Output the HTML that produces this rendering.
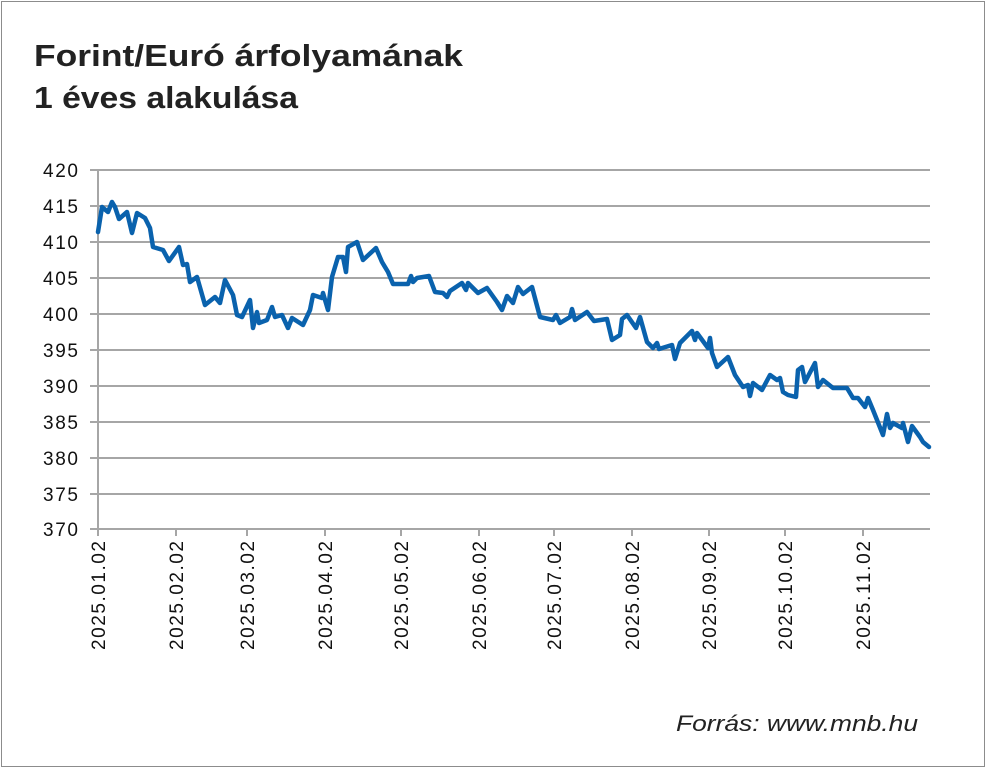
<!DOCTYPE html>
<html><head><meta charset="utf-8"><style>
html,body{margin:0;padding:0;background:#fff}
body{width:986px;height:768px;position:relative;overflow:hidden;font-family:"Liberation Sans",sans-serif}
.frame{position:absolute;left:1px;top:1px;width:982px;height:764px;border:1px solid #8c8c8c}
</style></head><body>
<div class="frame"></div>
<svg width="986" height="768" style="position:absolute;left:0;top:0">
<g font-weight="bold" font-size="31" fill="#222">
<text x="34" y="66" textLength="429" lengthAdjust="spacingAndGlyphs">Forint/Euró árfolyamának</text>
<text x="34" y="108" textLength="264" lengthAdjust="spacingAndGlyphs">1 éves alakulása</text>
</g>
<g stroke="#a6a6a6" stroke-width="2">
<line x1="90" x2="930" y1="170" y2="170"/><line x1="90" x2="930" y1="206" y2="206"/>
<line x1="90" x2="930" y1="242" y2="242"/><line x1="90" x2="930" y1="278" y2="278"/>
<line x1="90" x2="930" y1="314" y2="314"/><line x1="90" x2="930" y1="350" y2="350"/>
<line x1="90" x2="930" y1="386" y2="386"/><line x1="90" x2="930" y1="422" y2="422"/>
<line x1="90" x2="930" y1="458" y2="458"/><line x1="90" x2="930" y1="494" y2="494"/>
<line x1="90" x2="930" y1="529" y2="529"/>
<line x1="98" x2="98" y1="170" y2="536"/>
<line x1="176" x2="176" y1="529" y2="536"/><line x1="247" x2="247" y1="529" y2="536"/>
<line x1="325" x2="325" y1="529" y2="536"/><line x1="401" x2="401" y1="529" y2="536"/>
<line x1="479" x2="479" y1="529" y2="536"/><line x1="554" x2="554" y1="529" y2="536"/>
<line x1="632" x2="632" y1="529" y2="536"/><line x1="709" x2="709" y1="529" y2="536"/>
<line x1="785" x2="785" y1="529" y2="536"/><line x1="863" x2="863" y1="529" y2="536"/>
</g>
<g font-size="19" fill="#111" text-anchor="end">
<text x="78" y="177" textLength="35">420</text><text x="78" y="213" textLength="35">415</text><text x="78" y="249" textLength="35">410</text>
<text x="78" y="285" textLength="35">405</text><text x="78" y="321" textLength="35">400</text><text x="78" y="357" textLength="35">395</text>
<text x="78" y="393" textLength="35">390</text><text x="78" y="429" textLength="35">385</text><text x="78" y="465" textLength="35">380</text>
<text x="78" y="501" textLength="35">375</text><text x="78" y="536" textLength="35">370</text>
</g>
<g font-size="19" fill="#111" text-anchor="end">
<text transform="translate(105,541) rotate(-90)" textLength="109">2025.01.02</text>
<text transform="translate(183,541) rotate(-90)" textLength="109">2025.02.02</text>
<text transform="translate(254,541) rotate(-90)" textLength="109">2025.03.02</text>
<text transform="translate(332,541) rotate(-90)" textLength="109">2025.04.02</text>
<text transform="translate(408,541) rotate(-90)" textLength="109">2025.05.02</text>
<text transform="translate(486,541) rotate(-90)" textLength="109">2025.06.02</text>
<text transform="translate(561,541) rotate(-90)" textLength="109">2025.07.02</text>
<text transform="translate(639,541) rotate(-90)" textLength="109">2025.08.02</text>
<text transform="translate(716,541) rotate(-90)" textLength="109">2025.09.02</text>
<text transform="translate(792,541) rotate(-90)" textLength="109">2025.10.02</text>
<text transform="translate(870,541) rotate(-90)" textLength="109">2025.11.02</text>
</g>
<polyline fill="none" stroke="#0a62ad" stroke-width="4.5" stroke-linejoin="round" stroke-linecap="round" points="
98,232 102,207 108,212 112,202 115,207 119,219 127,212 132,233 137,213 145,218 150,228 153,247 163,250 169,261 179,247 183,265 187,264 190,282 197,277 205,305 215,297 220,303 225,280 233,295 237,315 242,317 250,300 253,328 257,312 259,323 267,320 272,307 275,317 282,315 288,328 292,318 303,325 310,310 313,295 322,298 323,293 328,310 332,277 338,257 343,257 346,272 348,247 357,242 363,260 376,248 382,262 388,272 393,284 408,284 411,276 413,282 417,278 429,276 435,292 443,293 447,297 450,291 462,283 466,290 468,283 478,293 487,288 497,302 502,310 507,296 513,303 518,287 523,294 532,287 540,317 553,320 556,315 560,323 570,317 572,309 575,320 587,312 594,321 607,319 612,340 620,335 622,319 627,315 636,328 640,317 647,342 653,348 657,343 659,349 672,345 675,359 680,343 692,331 695,340 697,333 708,348 710,338 712,353 717,367 728,357 735,375 743,387 748,385 750,396 753,383 762,390 770,375 777,380 780,378 783,392 788,395 796,397 798,370 802,367 805,382 815,363 818,387 823,380 833,388 847,388 853,398 858,398 865,407 868,398 873,410 883,435 887,414 890,428 893,423 902,428 903,423 908,442 912,426 920,437 923,442 929,447"/>
<text x="918" y="731" font-size="22" font-style="italic" fill="#222" text-anchor="end" textLength="242" lengthAdjust="spacingAndGlyphs">Forrás: www.mnb.hu</text>
</svg>
</body></html>
